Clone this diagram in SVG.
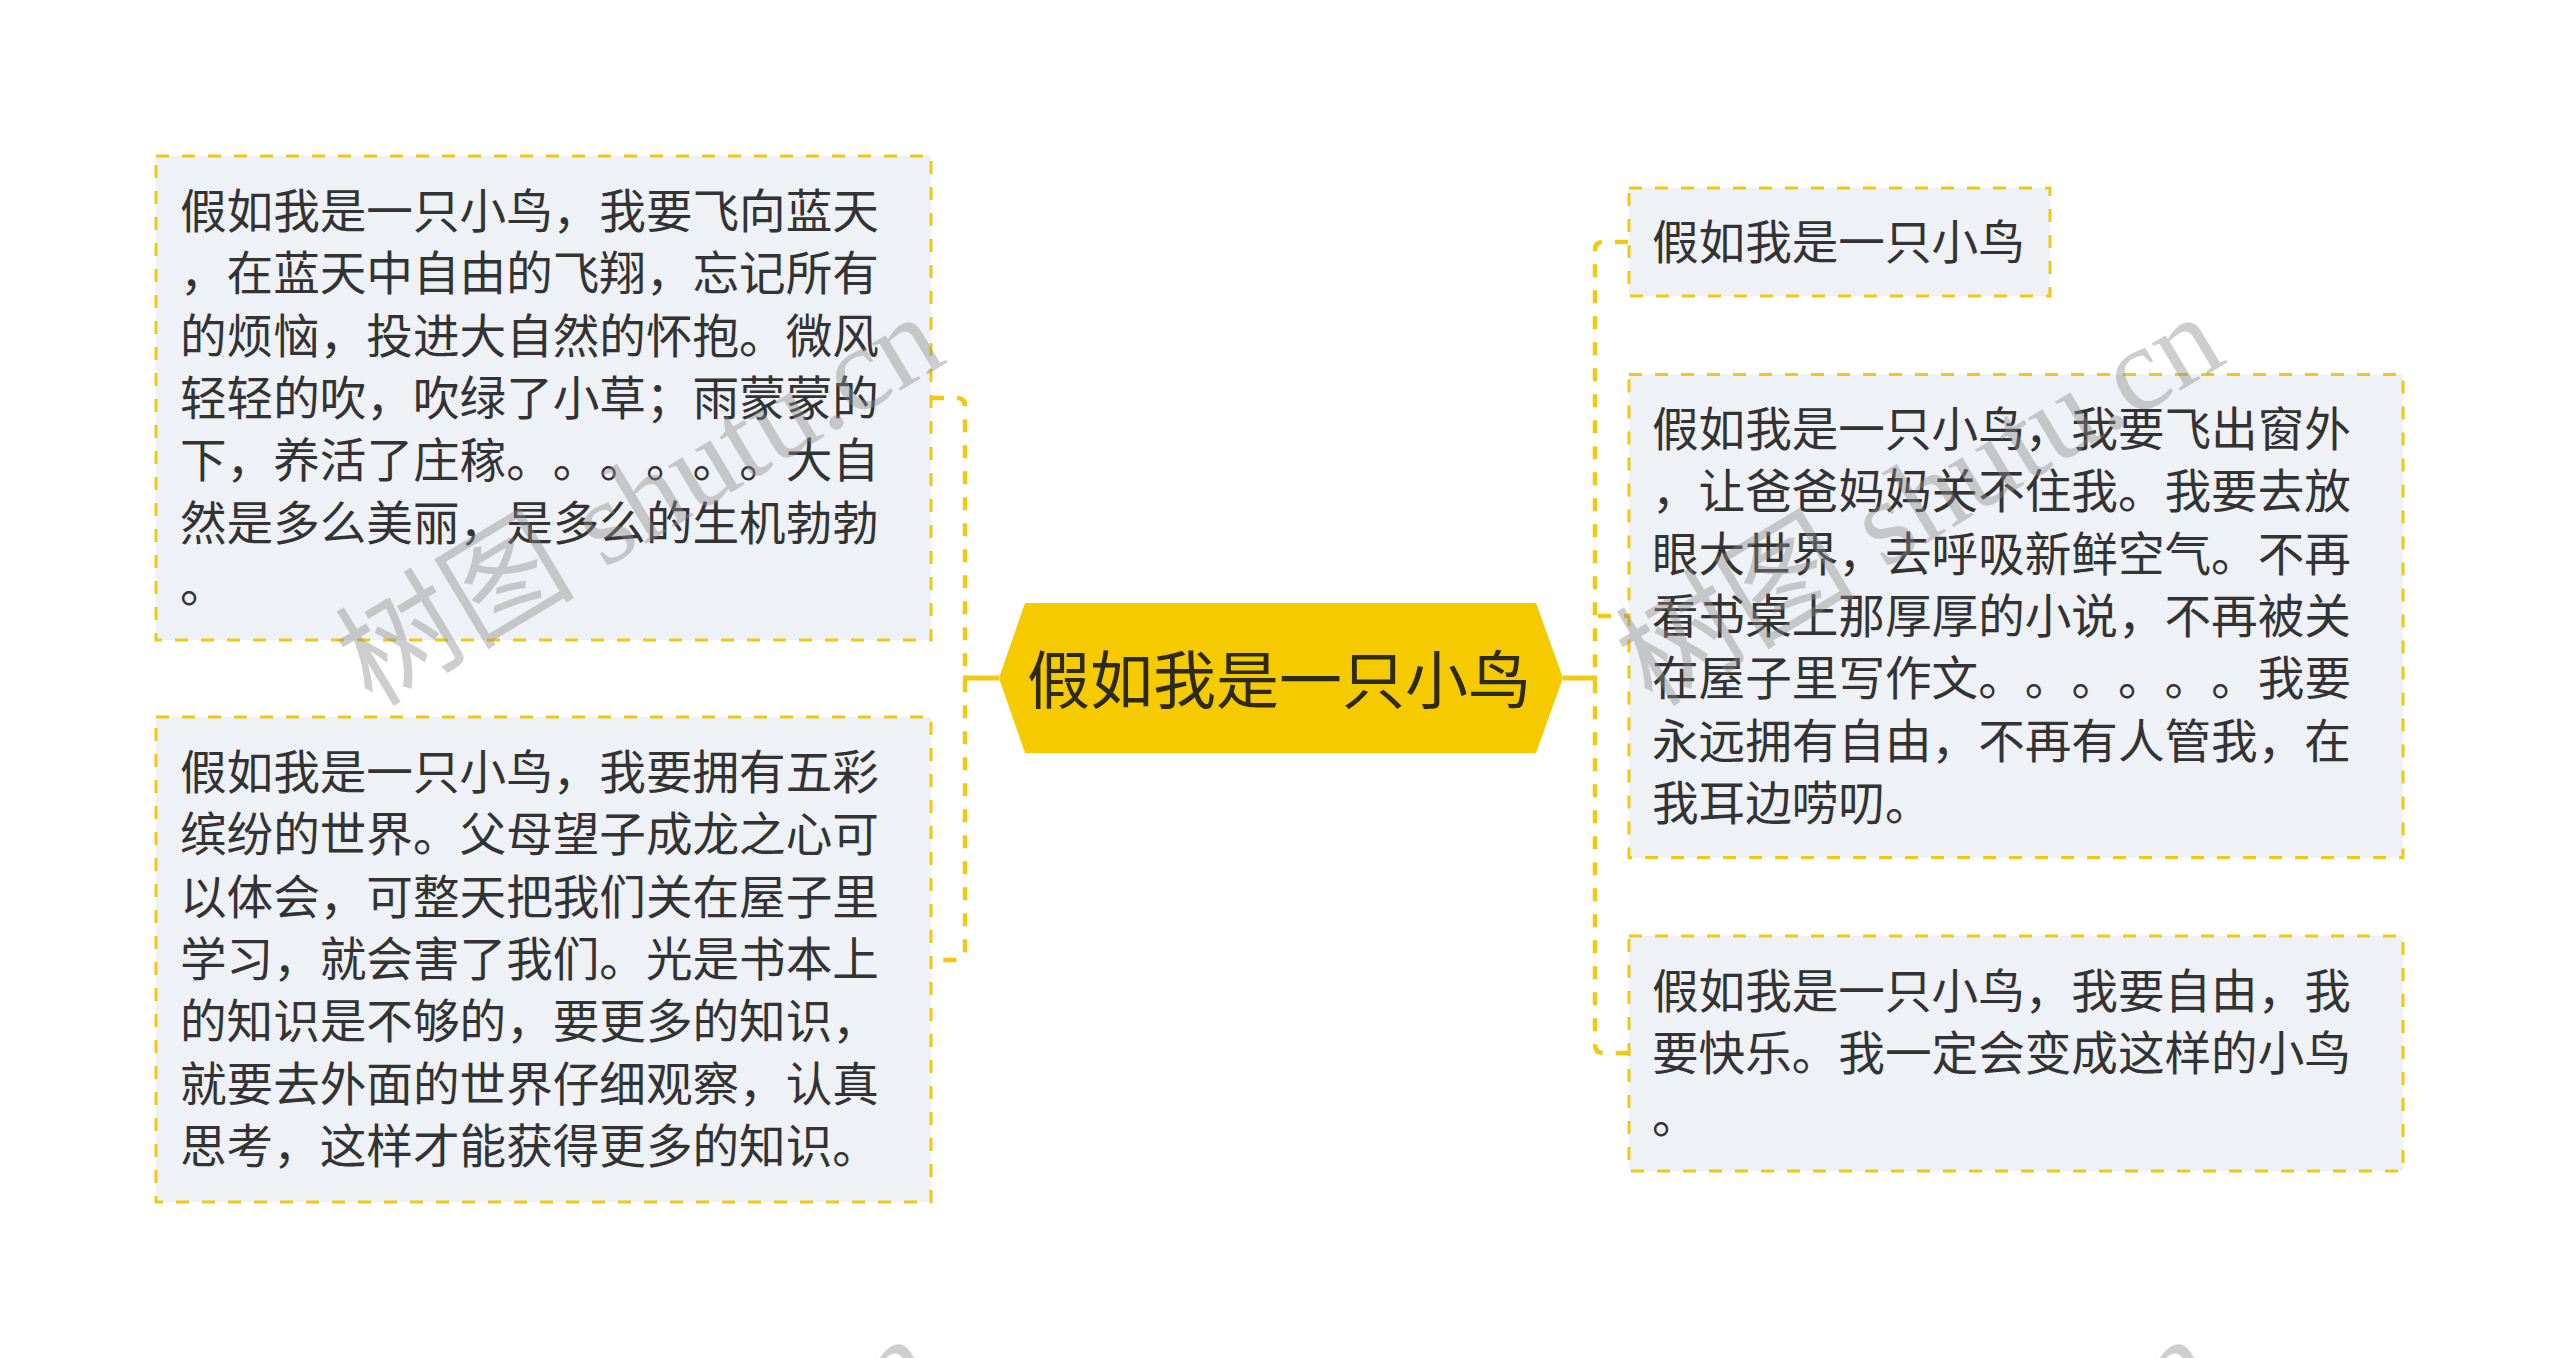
<svg xmlns="http://www.w3.org/2000/svg" width="2560" height="1358" viewBox="0 0 2560 1358">
<style>
.box{fill:#EEF1F5;stroke:#F2C811;stroke-width:3;stroke-dasharray:13 13}
.txt{font-family:"Noto Sans CJK SC","Noto Sans",sans-serif;font-size:46.6px;fill:#333333;text-spacing-trim:space-all}
.root{font-family:"Noto Sans CJK SC","Noto Sans",sans-serif;font-size:63px;fill:#2E2A1A;text-anchor:middle}
.dash{fill:none;stroke:#F2C811;stroke-width:4.5;stroke-dasharray:13 13}
.solid{fill:none;stroke:#F2C811;stroke-width:5}
.wm{font-family:"Liberation Serif","Noto Sans CJK SC",serif;font-size:120px;fill:#8a8a8a;fill-opacity:0.42}
</style>
<rect width="2560" height="1358" fill="#FFFFFF"/>
<g id="connectors">
<path class="solid" d="M999 678 H963"/>
<path class="dash" d="M931 398 H957 Q965 398 965 406 V952 Q965 960 957 960 H931"/>
<path class="solid" d="M1563 678 H1597"/>
<path class="dash" d="M1628 242 H1603 Q1595 242 1595 250 V1045 Q1595 1053 1603 1053 H1628"/>
<path class="dash" d="M1595 616 H1628" stroke-dashoffset="-3"/>
</g>
<g id="root">
<polygon points="999,678 1025,603 1536,603 1563,678 1536,753 1025,753" fill="#F5CB00"/>
<text class="root" x="1279" y="703">假如我是一只小鸟</text>
</g>
<g id="left1">
<rect class="box" x="156" y="156" width="775" height="484"/>
<text class="txt" x="180" y="228">
<tspan x="180" y="228">假如我是一只小鸟，我要飞向蓝天</tspan>
<tspan x="180" y="290.3">，在蓝天中自由的飞翔，忘记所有</tspan>
<tspan x="180" y="352.6">的烦恼，投进大自然的怀抱。微风</tspan>
<tspan x="180" y="414.9">轻轻的吹，吹绿了小草；雨蒙蒙的</tspan>
<tspan x="180 226.6 273.2 319.8 366.4 413 459.6 506.2 552.8 599.4 646 692.6 739.2 785.8 832.4" y="477.2">下，养活了庄稼。。。。。。大自</tspan>
<tspan x="180" y="539.5">然是多么美丽，是多么的生机勃勃</tspan>
<tspan x="180" y="601.8">。</tspan>
</text>
</g>
<g id="left2">
<rect class="box" x="156" y="717" width="775" height="485"/>
<text class="txt" x="180" y="789">
<tspan x="180" y="789">假如我是一只小鸟，我要拥有五彩</tspan>
<tspan x="180" y="851.3">缤纷的世界。父母望子成龙之心可</tspan>
<tspan x="180" y="913.6">以体会，可整天把我们关在屋子里</tspan>
<tspan x="180" y="975.9">学习，就会害了我们。光是书本上</tspan>
<tspan x="180" y="1038.2">的知识是不够的，要更多的知识，</tspan>
<tspan x="180" y="1100.5">就要去外面的世界仔细观察，认真</tspan>
<tspan x="180" y="1162.8">思考，这样才能获得更多的知识。</tspan>
</text>
</g>
<g id="right1">
<rect class="box" x="1629" y="188" width="421" height="108"/>
<text class="txt" x="1652" y="259">假如我是一只小鸟</text>
</g>
<g id="right2">
<rect class="box" x="1629" y="374.5" width="774" height="483"/>
<text class="txt" x="1652" y="446">
<tspan x="1652" y="446">假如我是一只小鸟，我要飞出窗外</tspan>
<tspan x="1652" y="508.3">，让爸爸妈妈关不住我。我要去放</tspan>
<tspan x="1652" y="570.6">眼大世界，去呼吸新鲜空气。不再</tspan>
<tspan x="1652" y="632.9">看书桌上那厚厚的小说，不再被关</tspan>
<tspan x="1652 1698.6 1745.2 1791.8 1838.4 1885 1931.6 1978.2 2024.8 2071.4 2118 2164.6 2211.2 2257.8 2304.4" y="695.2">在屋子里写作文。。。。。。我要</tspan>
<tspan x="1652" y="757.5">永远拥有自由，不再有人管我，在</tspan>
<tspan x="1652" y="819.8">我耳边唠叨。</tspan>
</text>
</g>
<g id="right3">
<rect class="box" x="1629" y="936" width="774" height="235"/>
<text class="txt" x="1652" y="1008">
<tspan x="1652" y="1008">假如我是一只小鸟，我要自由，我</tspan>
<tspan x="1652" y="1070.3">要快乐。我一定会变成这样的小鸟</tspan>
<tspan x="1652" y="1132.6">。</tspan>
</text>
</g>
<g id="watermark">
<text class="wm" transform="translate(372 708) rotate(-31)">树图 shutu.cn</text>
<text class="wm" transform="translate(1652 708) rotate(-31)">树图 shutu.cn</text>
<text class="wm" transform="translate(362 1730) rotate(-31)">树图 shutu.cn</text>
<text class="wm" transform="translate(1642 1730) rotate(-31)">树图 shutu.cn</text>
</g>
</svg>
